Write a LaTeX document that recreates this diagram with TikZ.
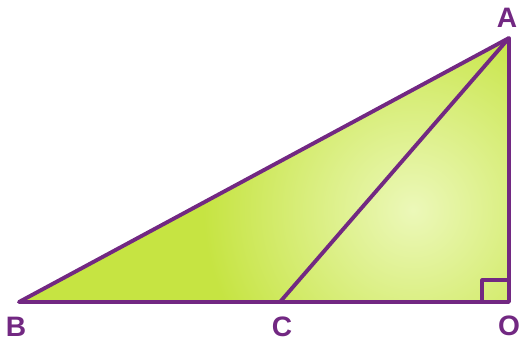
\documentclass[tikz,border=0pt]{standalone}
\usepackage{fontspec}
\setsansfont{Liberation Sans}
\usetikzlibrary{calc}
\definecolor{edge}{RGB}{114,40,130}
\definecolor{leaf}{RGB}{198,228,66}
\definecolor{glow}{RGB}{236,248,185}
\tikzset{
  side/.style={line width=2.2pt, edge, line join=round},
  vlabel/.style={font=\sffamily\bfseries\fontsize{16}{16}\selectfont, text=edge, inner sep=0pt}
}

\begin{document}
\begin{tikzpicture}[x=0.02cm, y=0.02cm]
\useasboundingbox (0,0) rectangle (520,341);
% Vertices
\coordinate (A) at (509,303);
\coordinate (B) at (19,39);
\coordinate (C) at (280,39);
\coordinate (O) at (509,39);

% Filled triangle with a soft light spot
\begin{scope}
  \clip (A) -- (B) -- (O) -- cycle;
  \fill[leaf] (0,0) rectangle (520,341);
  \shade[inner color=glow, outer color=leaf] (413,131) circle (210);
\end{scope}

% Sides
\draw[side] (A) -- (B) -- (O) -- cycle;
\draw[side] (A) -- (C);

% Right angle at O
\draw[side, line width=1.8pt] ($(O)+(-27,0)$) |- ($(O)+(0,22)$);

% Labels
\node[vlabel] (lA) at (507,323) {A};
\node[vlabel] (lB) at (16,14) {B};
\node[vlabel] (lC) at (282,14) {C};
\node[vlabel] (lO) at (509,15) {O};
\end{tikzpicture}
\end{document}
